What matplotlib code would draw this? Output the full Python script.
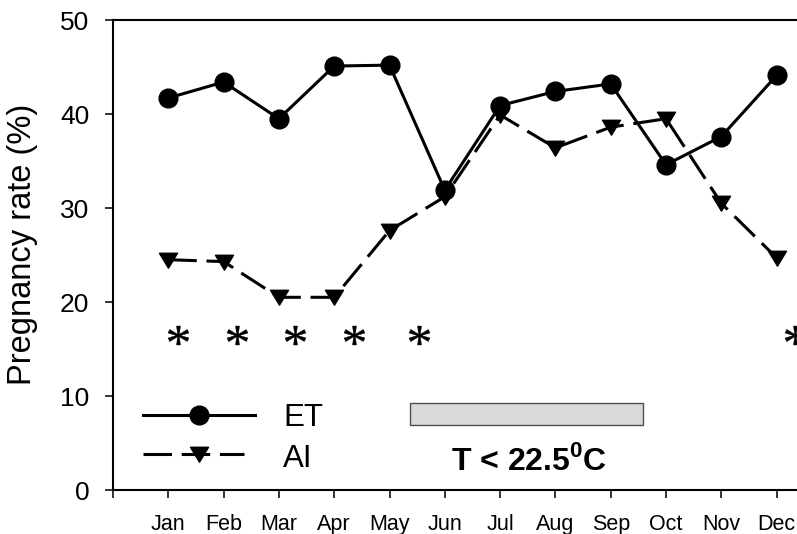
import numpy as np
import matplotlib
matplotlib.use("Agg")
import matplotlib.pyplot as plt
from matplotlib.path import Path
from matplotlib.textpath import TextPath
from matplotlib.font_manager import FontProperties
from matplotlib.patches import Rectangle

plt.rcParams["font.family"] = ["Liberation Sans", "DejaVu Sans"]
plt.rcParams["mathtext.fontset"] = "custom"
plt.rcParams["mathtext.rm"] = "Liberation Sans"
plt.rcParams["mathtext.bf"] = "Liberation Sans:bold"
plt.rcParams["lines.scale_dashes"] = False

# Monthly pregnancy rates (%)
months = ["Jan", "Feb", "Mar", "Apr", "May", "Jun",
          "Jul", "Aug", "Sep", "Oct", "Nov", "Dec"]
et_rate = [41.7, 43.4, 39.5, 45.1, 45.2, 31.9, 40.9, 42.4, 43.2, 34.6, 37.6, 44.1]
ai_rate = [24.5, 24.3, 20.5, 20.5, 27.6, 31.2, 39.9, 36.4, 38.6, 39.5, 30.5, 24.7]

# Significant ET vs AI differences
star_x = [1.18, 2.24, 3.29, 4.35, 5.53, 12.34]
star_y = 16.5

# Period with mean temperature below 22.5 C
cold_start, cold_end = 5.37, 9.58
cold_low, cold_high = 6.91, 9.22

x = np.arange(1, len(months) + 1)

W, H = 797, 534
fig = plt.figure(figsize=(W / 100, H / 100), dpi=100)
ax = fig.add_axes([113 / W, 44 / H, 13 * 55.3 / W, 470 / H])

# Down-pointing triangle, slightly wider than tall
tri = Path([(-1, 0.8), (1, 0.8), (0, -0.85), (-1, 0.8)],
           [Path.MOVETO, Path.LINETO, Path.LINETO, Path.CLOSEPOLY])

# Asterisk glyph as a centred marker
tp = TextPath((0, 0), "*", size=10, prop=FontProperties(family="Liberation Serif"))
ext = tp.get_extents()
cx, cy = (ext.x0 + ext.x1) / 2, (ext.y0 + ext.y1) / 2
sv = tp.vertices.copy() - [cx, cy]
sv[tp.codes == Path.CLOSEPOLY] = 0
star = Path(sv, tp.codes)

dash = (20.5, 7)
lw = 2.2

ax.plot(x, ai_rate, color="k", lw=lw, dashes=dash, marker=tri, ms=13,
        mec="k", mfc="k", zorder=3)
ax.plot(x, et_rate, color="k", lw=lw, marker="o", ms=13.5,
        mec="k", mfc="k", zorder=4)

ax.plot(star_x, [star_y] * len(star_x), ls="none", marker=star, ms=15,
        mfc="k", mec="k", mew=0.3, zorder=3)

# Legend
ax.plot([0.536, 2.57], [7.98, 7.98], color="k", lw=lw, zorder=3)
ax.plot([1.56], [7.98], "o", color="k", ms=13.5, zorder=4)
ax.plot([0.536, 2.36], [3.83, 3.83], color="k", lw=lw, dashes=dash, zorder=3)
ax.plot([1.56], [3.83], ls="none", marker=tri, ms=13, color="k", zorder=4)
ax.text(3.08, 6.81, "ET", fontsize=22.5, va="baseline", ha="left")
ax.text(3.08, 2.48, "AI", fontsize=22.5, va="baseline", ha="left")

# Temperature bar
ax.add_patch(Rectangle((cold_start, cold_low), cold_end - cold_start,
                       cold_high - cold_low, fc="#d9d9d9", ec="#4d4d4d",
                       lw=1.0, zorder=2))
ax.text((cold_start + cold_end) / 2 + 0.04, 2.13, r"T < 22.5$^{\mathbf{0}}$C",
        fontsize=23, fontweight="bold", ha="center", va="baseline")

ax.set_xlim(0, 13)
ax.set_ylim(0, 50)
ax.set_xticks(np.arange(0, 14))
ax.set_xticklabels([""] + months + [""])
ax.set_yticks(np.arange(0, 51, 10))

ax.tick_params(direction="out", length=6, width=1.1, color="k")
ax.tick_params(axis="x", labelsize=15.5, pad=11)
ax.tick_params(axis="y", labelsize=19, pad=11)

for side in ["left", "bottom", "top"]:
    ax.spines[side].set_linewidth(1.5)
ax.spines["right"].set_visible(False)

fig.text(23 / W, 1 - 244 / H, "Pregnancy rate (%)", rotation=90,
         fontsize=23.5, ha="center", va="center")

fig.savefig("out.png", dpi=100)
